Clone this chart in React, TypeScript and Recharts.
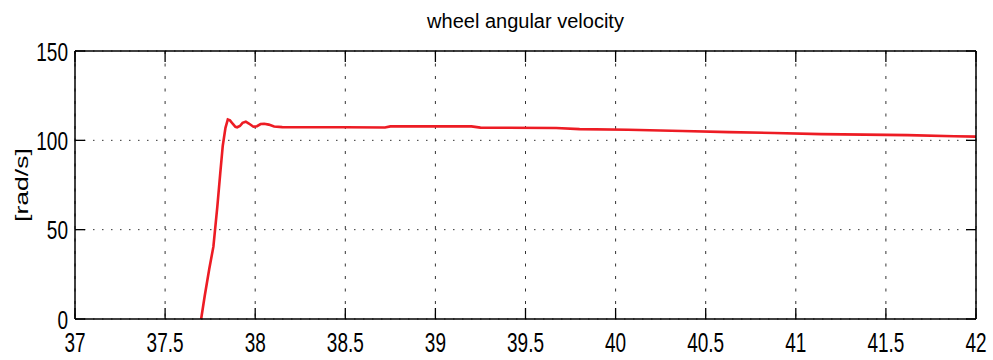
import { CartesianGrid, Line, LineChart, XAxis, YAxis } from "recharts";

// time [s] and wheel angular velocity [rad/s]
const time = [
  37.7, 37.72, 37.745, 37.768, 37.79, 37.806, 37.82, 37.835, 37.848, 37.86, 37.875,
  37.89, 37.9, 37.915, 37.93, 37.948, 37.965, 37.99, 38.01, 38.03, 38.05, 38.075,
  38.105, 38.15, 38.5, 38.72, 38.75, 39.2, 39.25, 39.67, 39.8, 40.07, 40.37, 40.63,
  40.88, 41.14, 41.62, 41.88, 42,
];
const omega = [
  0, 13, 28, 40.5, 63, 81.5, 97, 107, 111.7, 111.2, 109.3,
  107.6, 107.3, 108, 109.8, 110.4, 109.4, 107.6, 107.9, 109.1, 109.3, 108.8,
  107.7, 107.4, 107.3, 107.2, 107.8, 107.8, 107.1, 106.9, 106.3, 105.9, 105.2, 104.6,
  104.1, 103.5, 102.9, 102.3, 102.1,
];
const xTicks = [37, 37.5, 38, 38.5, 39, 39.5, 40, 40.5, 41, 41.5, 42];
const yTicks = [0, 50, 100, 150];

const data = time.map((t, i) => ({ t, w: omega[i] }));

const FONT = "'Liberation Sans', Arial, sans-serif";

// MATLAB style: ticks point into the plot, labels stretched vertically
function BottomTick(props: any) {
  const x = Number(props.x);
  const y = Number(props.y);
  return (
    <g>
      <line x1={x} x2={x} y1={y} y2={y - 11} stroke="#000" strokeWidth={1.3} />
      <text
        transform={`translate(${x},${y + 13}) scale(1,1.45)`}
        textAnchor="middle"
        dy="0.72em"
        fontFamily={FONT}
        fontSize={19}
        fill="#000"
      >
        {props.payload.value}
      </text>
    </g>
  );
}

function TopTick(props: any) {
  const x = Number(props.x);
  const y = Number(props.y);
  return <line x1={x} x2={x} y1={y} y2={y + 11} stroke="#000" strokeWidth={1.3} />;
}

function LeftTick(props: any) {
  const x = Number(props.x);
  const y = Number(props.y);
  return (
    <g>
      <line x1={x} x2={x + 10} y1={y} y2={y} stroke="#000" strokeWidth={1.3} />
      <text
        transform={`translate(${x - 7},${y}) scale(1,1.4)`}
        textAnchor="end"
        dy="0.36em"
        fontFamily={FONT}
        fontSize={19}
        fill="#000"
      >
        {props.payload.value}
      </text>
    </g>
  );
}

function RightTick(props: any) {
  const x = Number(props.x);
  const y = Number(props.y);
  return <line x1={x} x2={x - 10} y1={y} y2={y} stroke="#000" strokeWidth={1.3} />;
}

function YLabel({ viewBox }: any) {
  const cx = viewBox.x + 21;
  const cy = viewBox.y + viewBox.height / 2;
  return (
    <text
      transform={`translate(${cx},${cy}) scale(1,1.4) rotate(-90)`}
      textAnchor="middle"
      dy="0.36em"
      fontFamily={FONT}
      fontSize={19}
      fill="#000"
    >
      [rad/s]
    </text>
  );
}

const axisLine = { stroke: "#000", strokeWidth: 1.5 };

export default function App() {
  return (
    <div style={{ position: "absolute", left: 0, top: 0, width: 993, height: 360, background: "#fff" }}>
      <div
        style={{
          position: "absolute",
          left: 75,
          width: 901,
          top: 11,
          textAlign: "center",
          fontFamily: FONT,
          fontSize: 20,
          lineHeight: "20px",
          color: "#000",
        }}
      >
        wheel angular velocity
      </div>
      <LineChart width={993} height={360} data={data} margin={{ top: 50, right: 16, left: 0, bottom: 0 }}>
        <CartesianGrid horizontal={false} stroke="#333" strokeDasharray="3 9.5" />
        <CartesianGrid vertical={false} stroke="#333" strokeDasharray="1.5 7.5" />
        <XAxis
          dataKey="t"
          type="number"
          domain={[37, 42]}
          ticks={xTicks}
          interval={0}
          height={41}
          tickSize={0}
          tickMargin={0}
          axisLine={axisLine}
          tickLine={false}
          tick={<BottomTick />}
        />
        <XAxis
          xAxisId="top"
          dataKey="t"
          orientation="top"
          type="number"
          domain={[37, 42]}
          ticks={xTicks}
          interval={0}
          height={1}
          tickSize={0}
          tickMargin={0}
          axisLine={axisLine}
          tickLine={false}
          tick={<TopTick />}
        />
        <YAxis
          type="number"
          domain={[0, 150]}
          ticks={yTicks}
          interval={0}
          width={75}
          tickSize={0}
          tickMargin={0}
          axisLine={axisLine}
          tickLine={false}
          tick={<LeftTick />}
          label={<YLabel />}
        />
        <YAxis
          yAxisId="right"
          orientation="right"
          type="number"
          domain={[0, 150]}
          ticks={yTicks}
          interval={0}
          width={1}
          tickSize={0}
          tickMargin={0}
          axisLine={axisLine}
          tickLine={false}
          tick={<RightTick />}
        />
        <Line
          type="linear"
          dataKey="w"
          stroke="#ed1c24"
          strokeWidth={2.6}
          dot={false}
          isAnimationActive={false}
        />
        {/* invisible copy so the top/right frame axes are bound to data */}
        <Line
          xAxisId="top"
          yAxisId="right"
          type="linear"
          dataKey="w"
          stroke="none"
          dot={false}
          activeDot={false}
          isAnimationActive={false}
        />
      </LineChart>
    </div>
  );
}
